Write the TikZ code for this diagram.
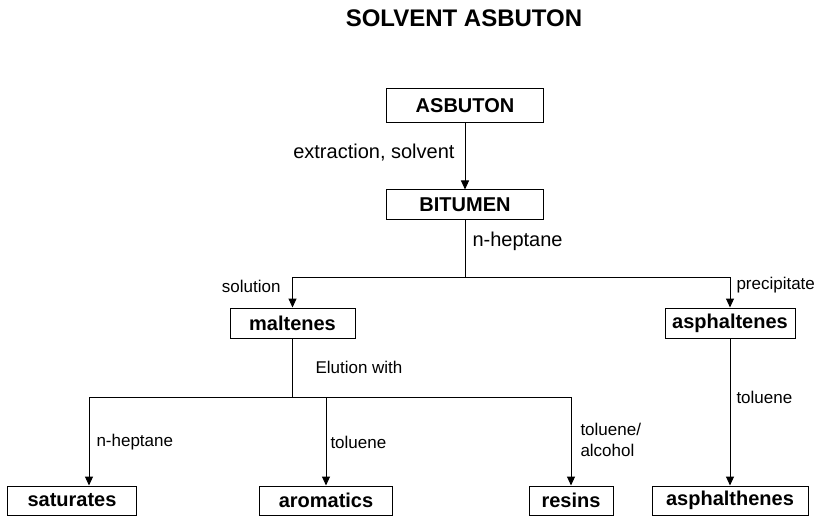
\documentclass[tikz,border=0pt]{standalone}
\usepackage{fontspec}
\setmainfont{Liberation Sans}
\usetikzlibrary{arrows.meta}

\begin{document}
\begin{tikzpicture}[x=1pt, y=-1pt, line width=1pt,
  box/.style={draw, inner sep=0pt, minimum height=30pt, font=\fontsize{20}{24}\selectfont\bfseries},
  biglabel/.style={inner sep=0pt, font=\fontsize{20}{24}\selectfont},
  smalllabel/.style={inner sep=0pt, font=\fontsize{17}{21}\selectfont, align=left},
  arr/.style={-{Triangle[width=8pt,length=9pt]}}]
\useasboundingbox (0,0) rectangle (828,516);

\node[font=\fontsize{24}{28}\selectfont\bfseries] (title) at (464,18) {SOLVENT ASBUTON};

\node[box, minimum width=157pt, minimum height=34pt] (asbuton) at (465,106) {ASBUTON};
\node[box, minimum width=157pt] (bitumen) at (465,205) {BITUMEN};
\node[box, minimum width=125pt] (maltenes) at (292.5,323) {maltenes};
\node[box, minimum width=130pt] (asphaltenes) at (730,323) {asphaltenes};
\node[box, minimum width=129pt, minimum height=29pt] (saturates) at (72,500.5) {saturates};
\node[box, minimum width=133pt, minimum height=29pt] (aromatics) at (326,500.5) {aromatics};
\node[box, minimum width=84pt, minimum height=29pt] (resins) at (571,500.5) {resins};
\node[box, minimum width=156pt, minimum height=29pt] (asphalthenes) at (730,500.5) {asphalthenes};

\coordinate (split1) at (465,277);
\coordinate (split2) at (292.5,397);

\draw[arr] (asbuton) -- (bitumen);
\draw (bitumen) -- (split1);
\draw[arr] (split1) -| (maltenes);
\draw[arr] (split1) -| (asphaltenes);
\draw (maltenes) -- (split2);
\draw[arr] (split2) -| ([xshift=17pt]saturates.north);
\draw[arr] (split2) -| (aromatics);
\draw[arr] (split2) -| (resins);
\draw[arr] (asphaltenes) -- (asphalthenes);

\node[biglabel, anchor=east] (extraction) at (455,153) {extraction, solvent};
\node[biglabel, anchor=west] (heptane1) at (472,241) {n-heptane};
\node[smalllabel, anchor=east] (solution) at (281,286) {solution};
\node[smalllabel, anchor=west] (precipitate) at (736,285) {precipitate};
\node[smalllabel, anchor=west] (elution) at (315,367) {Elution with};
\node[smalllabel, anchor=west] (heptane2) at (96,442) {n-heptane};
\node[smalllabel, anchor=west] (toluene1) at (330,442) {toluene};
\node[smalllabel, anchor=west] (toluene2) at (580,440) {toluene/\\alcohol};
\node[smalllabel, anchor=west] (toluene3) at (736,397) {toluene};

\end{tikzpicture}
\end{document}
